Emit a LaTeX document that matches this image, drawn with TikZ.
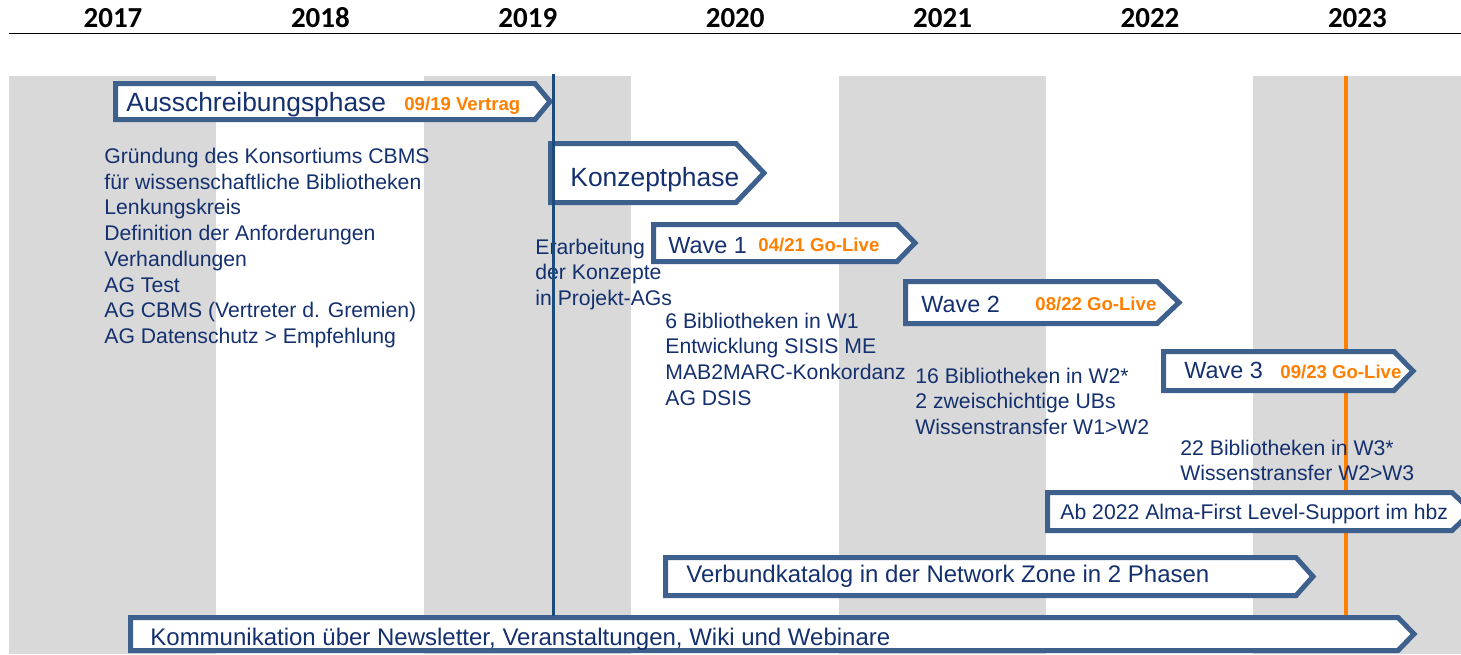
\documentclass[tikz,border=0pt]{standalone}
\usepackage{fontspec}
\setmainfont{Liberation Sans}
\newfontfamily\yearfont{Carlito}

\definecolor{stripegray}{HTML}{D9D9D9}
\definecolor{boxblue}{HTML}{3E608C}
\definecolor{textnavy}{HTML}{14306E}
\definecolor{linkblue}{HTML}{1A4C7E}
\definecolor{golive}{HTML}{FF8000}

\tikzset{
  phase/.style={draw=boxblue, fill=white, line width=2.5pt},
  phasetitle/.style={anchor=base west, inner sep=0pt, text=textnavy, font=\fontsize{13.2}{15}\selectfont},
  wavetitle/.style={anchor=base west, inner sep=0pt, text=textnavy, font=\fontsize{11.7}{14}\selectfont},
  bartitle/.style={anchor=base west, inner sep=0pt, text=textnavy, font=\fontsize{12}{14}\selectfont},
  milestone/.style={anchor=base west, inner sep=0pt, text=golive, font=\bfseries\fontsize{9.3}{11}\selectfont},
  notes/.style={anchor=base west, inner sep=0pt, text=textnavy, font=\fontsize{10.6}{13}\selectfont},
  year/.style={anchor=base, inner sep=0pt, font=\yearfont\bfseries\fontsize{14.5}{17}\selectfont}
}

\begin{document}
\begin{tikzpicture}[x=0.5pt, y=-0.5pt]
    \useasboundingbox (0,0) rectangle (1461,654);

    % year columns
    \foreach \i in {0,2,4,6}
      \fill[stripegray] (9+207.4*\i,76) rectangle (9+207.4*\i+207.4,654);
    \foreach \yr [count=\i from 0] in {2017,...,2023}
      \node[year] (y\yr) at (113+207.4*\i, 27.3) {\yr};
    \draw[line width=0.75pt] (9,33.5) -- (1461,33.5);

    \draw[golive, line width=2pt] (1345.5,76) -- (1345.5,617);

    % phases
    \draw[phase] (115.5,83.5) -- (535,83.5) -- (550,101.5) -- (535,119.5) -- (115.5,119.5) -- cycle;
    \node[phasetitle] (aus) at (126,111.5) {Ausschreibungsphase};
    \node[milestone] (ausdate) at (404,110.5) {09/19 Vertrag};

    \draw[phase] (550.5,143.5) -- (736,143.5) -- (764,173) -- (736,202.5) -- (550.5,202.5) -- cycle;
    \node[phasetitle] (konzept) at (570,186.7) {Konzeptphase};

    \draw[phase] (653.5,224.5) -- (897,224.5) -- (915,243) -- (897,261.5) -- (653.5,261.5) -- cycle;
    \node[wavetitle] (wave1) at (668,253.3) {Wave 1};
    \node[milestone] (wave1date) at (758,251.7) {04/21 Go-Live};

    \draw[phase] (905.5,281.5) -- (1157,281.5) -- (1179,302.5) -- (1157,323.5) -- (905.5,323.5) -- cycle;
    \node[wavetitle] (wave2) at (921,312.3) {Wave 2};
    \node[milestone] (wave2date) at (1035,310.5) {08/22 Go-Live};

    \draw[phase] (1163.5,351.5) -- (1394,351.5) -- (1413,371) -- (1394,390.5) -- (1163.5,390.5) -- cycle;
    \node[wavetitle] (wave3) at (1184,378.3) {Wave 3};
    \node[milestone] (wave3date) at (1280,378) {09/23 Go-Live};

    \draw[phase] (1047.5,492.5) -- (1452,492.5) -- (1472,511.5) -- (1452,530.5) -- (1047.5,530.5) -- cycle;
    \node[notes] (support) at (1060,519) {Ab 2022 Alma-First Level-Support im hbz};

    \draw[phase] (665.5,557.5) -- (1296,557.5) -- (1313,576.5) -- (1296,595.5) -- (665.5,595.5) -- cycle;
    \node[bartitle] (nz) at (686,582) {Verbundkatalog in der Network Zone in 2 Phasen};

    \draw[phase] (130.5,617.5) -- (1398,617.5) -- (1414,634) -- (1398,650.5) -- (130.5,650.5) -- cycle;
    \node[bartitle] (komm) at (150,645) {Kommunikation über Newsletter, Veranstaltungen, Wiki und Webinare};

    % notes
    \foreach \txt [count=\i from 0] in {Gründung des Konsortiums CBMS, für wissenschaftliche Bibliotheken,
        Lenkungskreis, Definition der Anforderungen, Verhandlungen, AG Test,
        AG CBMS (Vertreter d. Gremien), AG Datenschutz > Empfehlung}
      \node[notes] (vorb\i) at (104,163.5+25.7*\i) {\txt};
    \foreach \txt [count=\i from 0] in {Erarbeitung, der Konzepte, in Projekt-AGs}
      \node[notes] (konz\i) at (535,254+25.7*\i) {\txt};
    \foreach \txt [count=\i from 0] in {6 Bibliotheken in W1, Entwicklung SISIS ME, MAB2MARC-Konkordanz, AG DSIS}
      \node[notes] (wone\i) at (665,328+25.7*\i) {\txt};
    \foreach \txt [count=\i from 0] in {16 Bibliotheken in W2*, 2 zweischichtige UBs, Wissenstransfer W1>W2}
      \node[notes] (wtwo\i) at (915,383+25.7*\i) {\txt};
    \foreach \txt [count=\i from 0] in {22 Bibliotheken in W3*, Wissenstransfer W2>W3}
      \node[notes] (wthree\i) at (1180,455+25.7*\i) {\txt};

    \draw[linkblue, line width=1.5pt] (553,74) -- (553,616);
\end{tikzpicture}
\end{document}
